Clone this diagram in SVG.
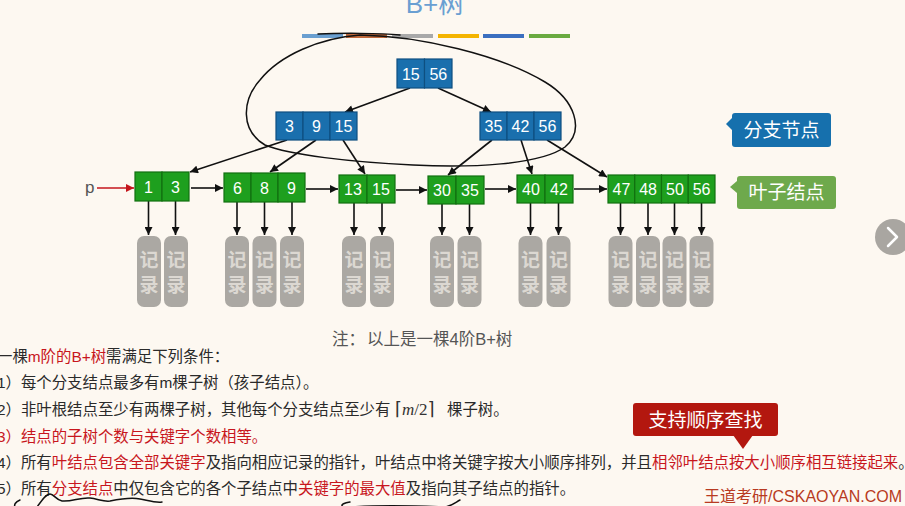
<svg xmlns="http://www.w3.org/2000/svg" width="905" height="506" viewBox="0 0 905 506">
  <defs>
    <marker id="ah" viewBox="0 0 10 10" refX="10" refY="5" markerWidth="9" markerHeight="8" markerUnits="userSpaceOnUse" orient="auto">
      <path d="M0,0 L10,5 L0,10 z" fill="#111"/>
    </marker>
    <marker id="ahr" viewBox="0 0 10 10" refX="10" refY="5" markerWidth="9" markerHeight="8" markerUnits="userSpaceOnUse" orient="auto">
      <path d="M0,0 L10,5 L0,10 z" fill="#c4161c"/>
    </marker>
    <style>
      .br { fill: #1a6fad; stroke: #0e4f80; stroke-width: 1.2; }
      .lf { fill: #1e9f1e; stroke: #11700f; stroke-width: 1.2; }
      .key { font-family: "Liberation Sans", Arial, sans-serif; font-size: 16px; fill: #ffffff; text-anchor: middle; }
      .rec { fill: #aba8a3; }
      .rect { font-family: "Noto Sans CJK SC", sans-serif; font-size: 19px; font-weight: bold; fill: #dcd8d2; text-anchor: middle; }
      .edge { stroke: #111; stroke-width: 1.6; fill: none; marker-end: url(#ah); }
      .body { font-family: "Liberation Sans", "Noto Sans CJK SC", sans-serif; font-size: 15.4px; fill: #2a2a2a; }
      .red { fill: #c8161d; }
      .tag { font-family: "Noto Sans CJK SC", sans-serif; font-size: 19px; fill: #ffffff; text-anchor: middle; }
      .ink { stroke: #111; stroke-width: 1.5; fill: none; stroke-linecap: round; }
    </style>
  </defs>

  <rect width="905" height="506" fill="#fdf8f1"/>

  <!-- title and colour strip -->
  <text x="435" y="13" font-family="Liberation Sans, Noto Sans CJK SC, sans-serif" font-size="26" fill="#6a9fd2" text-anchor="middle">B+树</text>
  <g>
    <rect x="302" y="34" width="41" height="4" fill="#6a9fd0"/>
    <rect x="346" y="34" width="41" height="4" fill="#c0683a"/>
    <rect x="392" y="34" width="41" height="4" fill="#a9a9a9"/>
    <rect x="438" y="34" width="41" height="4" fill="#f4b400"/>
    <rect x="483" y="34" width="41" height="4" fill="#3b6fc0"/>
    <rect x="529" y="34" width="41" height="4" fill="#6aaa40"/>
  </g>

  <!-- hand-drawn loop around the branch level -->
  <path class="ink" d="M318 34 C340 33 380 33 400 35"/>
  <path class="ink" d="M360 35 C420 36 500 55 545 82 C575 100 585 130 565 147 C540 165 470 168 413 165 C350 162 290 155 265 145 C240 130 242 100 260 80 C280 55 320 38 360 35 Z"/>

  <!-- connectors -->
  <g id="connectors">
    <line class="edge" x1="410" y1="88" x2="345" y2="112"/>
    <line class="edge" x1="438" y1="88" x2="491" y2="112"/>
    <line class="edge" x1="287" y1="140" x2="190" y2="172"/>
    <line class="edge" x1="316" y1="140" x2="270" y2="172"/>
    <line class="edge" x1="343" y1="140" x2="365" y2="174"/>
    <line class="edge" x1="492" y1="140" x2="448" y2="175"/>
    <line class="edge" x1="521" y1="140" x2="532" y2="174"/>
    <line class="edge" x1="547" y1="140" x2="607" y2="177"/>
    <!-- leaf chain -->
    <line class="edge" x1="191" y1="188" x2="223" y2="188"/>
    <line class="edge" x1="306" y1="189" x2="338" y2="189"/>
    <line class="edge" x1="396" y1="190" x2="427" y2="190"/>
    <line class="edge" x1="485" y1="189" x2="516" y2="189"/>
    <line class="edge" x1="574" y1="189" x2="607" y2="189"/>
    <line x1="97" y1="188" x2="134" y2="188" stroke="#c4161c" stroke-width="1.6" marker-end="url(#ahr)"/>
    <!-- record pointers -->
    <line class="edge" x1="148.5" y1="201" x2="148.5" y2="235"/>
    <line class="edge" x1="175.5" y1="201" x2="175.5" y2="235"/>
    <line class="edge" x1="237" y1="202" x2="237" y2="235"/>
    <line class="edge" x1="264.5" y1="202" x2="264.5" y2="235"/>
    <line class="edge" x1="292" y1="202" x2="292" y2="235"/>
    <line class="edge" x1="354" y1="203" x2="354" y2="235"/>
    <line class="edge" x1="382" y1="203" x2="382" y2="235"/>
    <line class="edge" x1="442" y1="204" x2="442" y2="235"/>
    <line class="edge" x1="469.5" y1="204" x2="469.5" y2="235"/>
    <line class="edge" x1="530.5" y1="203" x2="530.5" y2="235"/>
    <line class="edge" x1="558.5" y1="203" x2="558.5" y2="235"/>
    <line class="edge" x1="620.5" y1="203" x2="620.5" y2="235"/>
    <line class="edge" x1="648" y1="203" x2="648" y2="235"/>
    <line class="edge" x1="674.5" y1="203" x2="674.5" y2="235"/>
    <line class="edge" x1="701.5" y1="203" x2="701.5" y2="235"/>
  </g>

  <text x="85" y="193" font-family="Liberation Sans, sans-serif" font-size="17" fill="#555">p</text>

  <!-- branch nodes -->
  <g id="root">
    <rect class="br" x="397" y="59" width="27.5" height="29"/>
    <rect class="br" x="424.5" y="59" width="27.5" height="29"/>
    <text class="key" x="410.8" y="79.5">15</text>
    <text class="key" x="438.3" y="79.5">56</text>
  </g>
  <g id="branch-left">
    <rect class="br" x="276" y="112" width="27" height="28"/>
    <rect class="br" x="303" y="112" width="27" height="28"/>
    <rect class="br" x="330" y="112" width="27" height="28"/>
    <text class="key" x="289.5" y="132">3</text>
    <text class="key" x="316.5" y="132">9</text>
    <text class="key" x="343.5" y="132">15</text>
  </g>
  <g id="branch-right">
    <rect class="br" x="480" y="112" width="27" height="28"/>
    <rect class="br" x="507" y="112" width="27" height="28"/>
    <rect class="br" x="534" y="112" width="27" height="28"/>
    <text class="key" x="493.5" y="132">35</text>
    <text class="key" x="520.5" y="132">42</text>
    <text class="key" x="547.5" y="132">56</text>
  </g>

  <!-- leaf nodes -->
  <g id="leaf-1">
    <rect class="lf" x="135" y="172" width="27" height="29"/>
    <rect class="lf" x="162" y="172" width="27" height="29"/>
    <text class="key" x="148.5" y="192.5">1</text>
    <text class="key" x="175.5" y="192.5">3</text>
  </g>
  <g id="leaf-2">
    <rect class="lf" x="224" y="173" width="27" height="29"/>
    <rect class="lf" x="251" y="173" width="27" height="29"/>
    <rect class="lf" x="278" y="173" width="27" height="29"/>
    <text class="key" x="237.5" y="193.5">6</text>
    <text class="key" x="264.5" y="193.5">8</text>
    <text class="key" x="291.5" y="193.5">9</text>
  </g>
  <g id="leaf-3">
    <rect class="lf" x="339" y="175" width="28" height="28"/>
    <rect class="lf" x="367" y="175" width="28" height="28"/>
    <text class="key" x="353" y="195">13</text>
    <text class="key" x="381" y="195">15</text>
  </g>
  <g id="leaf-4">
    <rect class="lf" x="428" y="176" width="28" height="28"/>
    <rect class="lf" x="456" y="176" width="28" height="28"/>
    <text class="key" x="442" y="196">30</text>
    <text class="key" x="470" y="196">35</text>
  </g>
  <g id="leaf-5">
    <rect class="lf" x="517" y="175" width="28" height="28"/>
    <rect class="lf" x="545" y="175" width="28" height="28"/>
    <text class="key" x="531" y="195">40</text>
    <text class="key" x="559" y="195">42</text>
  </g>
  <g id="leaf-6">
    <rect class="lf" x="608" y="175" width="26.75" height="28"/>
    <rect class="lf" x="634.75" y="175" width="26.75" height="28"/>
    <rect class="lf" x="661.5" y="175" width="26.75" height="28"/>
    <rect class="lf" x="688.25" y="175" width="26.75" height="28"/>
    <text class="key" x="621.4" y="195">47</text>
    <text class="key" x="648.1" y="195">48</text>
    <text class="key" x="674.9" y="195">50</text>
    <text class="key" x="701.6" y="195">56</text>
  </g>

  <!-- record blocks -->
  <g id="records">
    <g id="rec-1"><rect class="rec" x="137" y="236" width="24" height="71" rx="7"/><text class="rect" x="149" y="267">记</text><text class="rect" x="149" y="292">录</text></g>
    <g id="rec-3"><rect class="rec" x="164" y="236" width="24" height="71" rx="7"/><text class="rect" x="176" y="267">记</text><text class="rect" x="176" y="292">录</text></g>
    <g id="rec-6"><rect class="rec" x="225" y="236" width="24" height="71" rx="7"/><text class="rect" x="237" y="267">记</text><text class="rect" x="237" y="292">录</text></g>
    <g id="rec-8"><rect class="rec" x="252.5" y="236" width="24" height="71" rx="7"/><text class="rect" x="264.5" y="267">记</text><text class="rect" x="264.5" y="292">录</text></g>
    <g id="rec-9"><rect class="rec" x="280" y="236" width="24" height="71" rx="7"/><text class="rect" x="292" y="267">记</text><text class="rect" x="292" y="292">录</text></g>
    <g id="rec-13"><rect class="rec" x="342" y="236" width="24" height="71" rx="7"/><text class="rect" x="354" y="267">记</text><text class="rect" x="354" y="292">录</text></g>
    <g id="rec-15"><rect class="rec" x="370" y="236" width="24" height="71" rx="7"/><text class="rect" x="382" y="267">记</text><text class="rect" x="382" y="292">录</text></g>
    <g id="rec-30"><rect class="rec" x="430" y="236" width="24" height="71" rx="7"/><text class="rect" x="442" y="267">记</text><text class="rect" x="442" y="292">录</text></g>
    <g id="rec-35"><rect class="rec" x="457.5" y="236" width="24" height="71" rx="7"/><text class="rect" x="469.5" y="267">记</text><text class="rect" x="469.5" y="292">录</text></g>
    <g id="rec-40"><rect class="rec" x="518.5" y="236" width="24" height="71" rx="7"/><text class="rect" x="530.5" y="267">记</text><text class="rect" x="530.5" y="292">录</text></g>
    <g id="rec-42"><rect class="rec" x="546.5" y="236" width="24" height="71" rx="7"/><text class="rect" x="558.5" y="267">记</text><text class="rect" x="558.5" y="292">录</text></g>
    <g id="rec-47"><rect class="rec" x="608.5" y="236" width="24" height="71" rx="7"/><text class="rect" x="620.5" y="267">记</text><text class="rect" x="620.5" y="292">录</text></g>
    <g id="rec-48"><rect class="rec" x="636" y="236" width="24" height="71" rx="7"/><text class="rect" x="648" y="267">记</text><text class="rect" x="648" y="292">录</text></g>
    <g id="rec-50"><rect class="rec" x="662.5" y="236" width="24" height="71" rx="7"/><text class="rect" x="674.5" y="267">记</text><text class="rect" x="674.5" y="292">录</text></g>
    <g id="rec-56"><rect class="rec" x="689.5" y="236" width="24" height="71" rx="7"/><text class="rect" x="701.5" y="267">记</text><text class="rect" x="701.5" y="292">录</text></g>
  </g>

  <!-- callout labels -->
  <g id="label-branch">
    <path d="M732 118 L726 124 L732 130 Z" fill="#1670ad"/>
    <rect x="732" y="113" width="99" height="34" rx="3" fill="#1670ad"/>
    <text class="tag" x="781.5" y="137">分支节点</text>
  </g>
  <g id="label-leaf">
    <path d="M737 181 L730 187 L737 193 Z" fill="#6ea94c"/>
    <rect x="737" y="176" width="99" height="33" rx="3" fill="#6ea94c"/>
    <text class="tag" x="786.5" y="199">叶子结点</text>
  </g>
  <g id="label-seq">
    <path d="M733 435 L743 449 L753 435 Z" fill="#b3170f"/>
    <rect x="633" y="403" width="145" height="33" rx="3" fill="#b3170f"/>
    <text class="tag" x="705.5" y="426.5">支持顺序查找</text>
  </g>

  <!-- next-page button -->
  <circle cx="893" cy="237" r="18" fill="#a9a6a1"/>
  <path d="M888 228 L897 237 L888 246" stroke="#ffffff" stroke-width="2.5" fill="none" stroke-linecap="round" stroke-linejoin="round"/>

  <!-- notes -->
  <text x="332" y="345" font-family="Liberation Sans, Noto Sans CJK SC, sans-serif" font-size="16.5" fill="#555">注：<tspan x="367">以上是一棵4阶B+树</tspan></text>

  <text class="body" x="-3" y="361.5">一棵<tspan class="red">m阶的B+树</tspan>需满足下列条件：</text>
  <text class="body" x="-3" y="387.5">1）每个分支结点最多有m棵子树（孩子结点）。</text>
  <text class="body" x="-3" y="414.5">2）非叶根结点至少有两棵子树，其他每个分支结点至少有</text>
  <text x="395" y="415" font-size="17" fill="#333"><tspan font-family="DejaVu Sans, sans-serif" font-size="18">⌈</tspan><tspan font-family="Liberation Serif, serif" font-style="italic">m</tspan><tspan font-family="Liberation Serif, serif">/2</tspan><tspan font-family="DejaVu Sans, sans-serif" font-size="18">⌉</tspan></text>
  <text class="body" x="447" y="414.5">棵子树。</text>
  <text class="body red" x="-3" y="441.5">3）结点的子树个数与关键字个数相等。</text>
  <text class="body" x="-3" y="467.5">4）所有<tspan class="red">叶结点包含全部关键字</tspan>及指向相应记录的指针，叶结点中将关键字按大小顺序排列，并且<tspan class="red">相邻叶结点按大小顺序相互链接起来</tspan>。</text>
  <text class="body" x="-3" y="493.5">5）所有<tspan class="red">分支结点</tspan>中仅包含它的各个子结点中<tspan class="red">关键字的最大值</tspan>及指向其子结点的指针。</text>

  <text x="902" y="502" font-family="Liberation Sans, Noto Sans CJK SC, sans-serif" font-size="16" fill="#b83a22" text-anchor="end">王道考研/CSKAOYAN.COM</text>

  <!-- pen marks along the bottom edge -->
  <path class="ink" d="M20 500 C15 502 14 505 15 507"/>
  <path class="ink" d="M37 507 C42 500 46 494 50 494 C54 494 56 500 62 501 C72 502 80 497 90 498 C98 499 104 502 110 501 C120 499 130 497 140 499 C150 501 156 503 162 502"/>
  <path class="ink" d="M350 502 C338 504 340 508 352 507 C380 505 420 506 445 507 C452 506 456 502 460 500"/>
</svg>
